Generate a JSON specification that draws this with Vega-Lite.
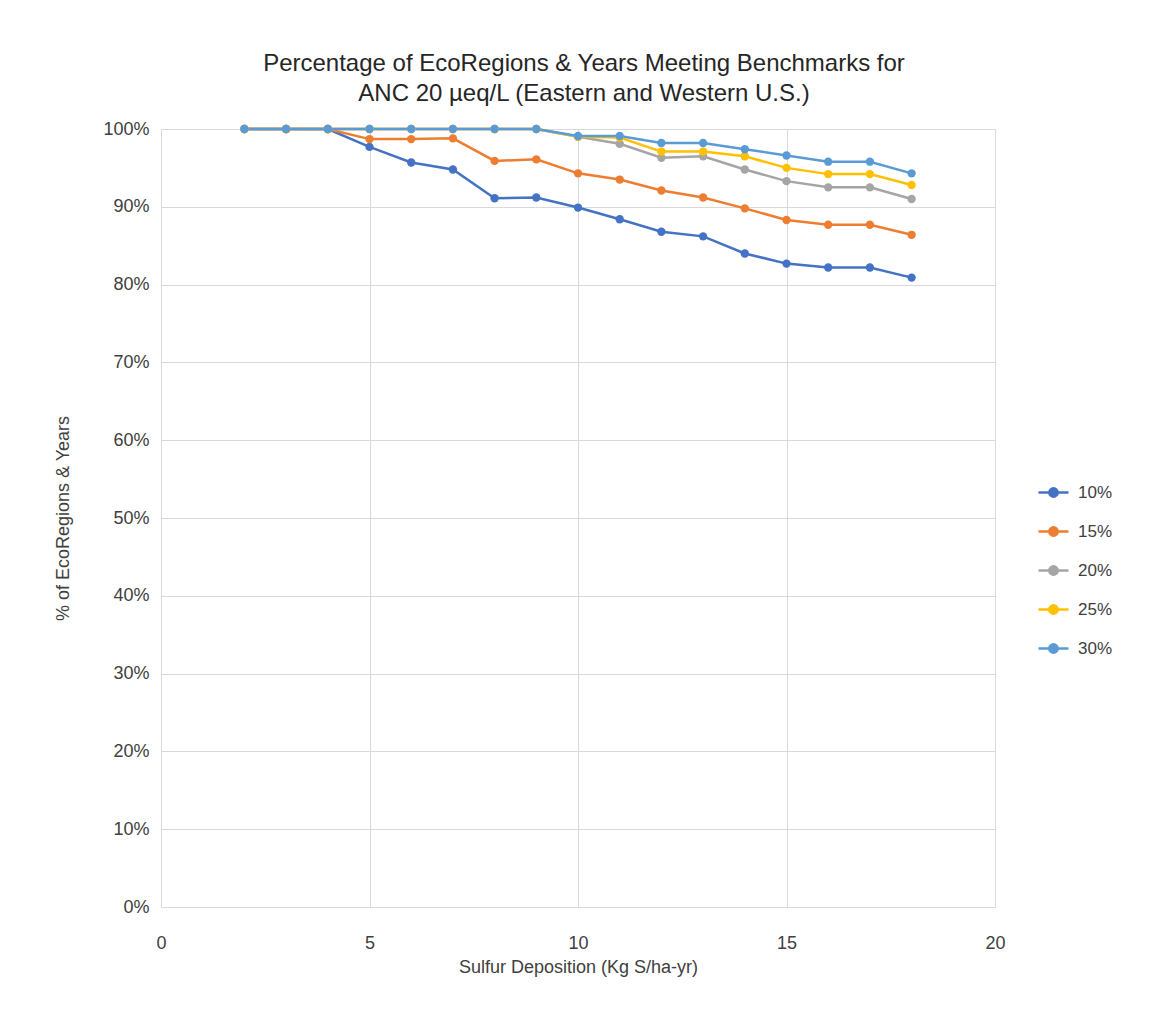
{
  "$schema": "https://vega.github.io/schema/vega-lite/v6.json",
  "autosize": "none",
  "width": 834,
  "height": 778,
  "padding": {"left": 161, "top": 129, "right": 159, "bottom": 119},
  "background": "white",
  "title": {
    "text": ["Percentage  of EcoRegions  & Years Meeting Benchmarks for", "ANC 20 µeq/L  (Eastern  and  Western  U.S.)"],
    "font": "Liberation Sans",
    "fontSize": 24,
    "fontWeight": "normal",
    "color": "#262626",
    "anchor": "middle",
    "dx": 6,
    "offset": 14,
    "lineHeight": 30
  },
  "config": {
    "view": {"stroke": null},
    "font": "Liberation Sans",
    "axis": {
      "labelFont": "Liberation Sans",
      "titleFont": "Liberation Sans",
      "labelFontSize": 18,
      "titleFontSize": 18,
      "labelColor": "#404040",
      "titleColor": "#404040",
      "titleFontWeight": "normal",
      "gridColor": "#d9d9d9",
      "gridWidth": 1,
      "domain": false,
      "ticks": false,
      "labelFlush": false
    },
    "legend": {
      "labelFont": "Liberation Sans",
      "labelFontSize": 17,
      "labelColor": "#404040"
    }
  },
  "data": {
    "values": [
      {"x": 2, "s": "10%", "y": 100}, {"x": 3, "s": "10%", "y": 100}, {"x": 4, "s": "10%", "y": 100},
      {"x": 5, "s": "10%", "y": 97.7}, {"x": 6, "s": "10%", "y": 95.7}, {"x": 7, "s": "10%", "y": 94.8},
      {"x": 8, "s": "10%", "y": 91.1}, {"x": 9, "s": "10%", "y": 91.2}, {"x": 10, "s": "10%", "y": 89.9},
      {"x": 11, "s": "10%", "y": 88.4}, {"x": 12, "s": "10%", "y": 86.8}, {"x": 13, "s": "10%", "y": 86.2},
      {"x": 14, "s": "10%", "y": 84.0}, {"x": 15, "s": "10%", "y": 82.7}, {"x": 16, "s": "10%", "y": 82.2},
      {"x": 17, "s": "10%", "y": 82.2}, {"x": 18, "s": "10%", "y": 80.9},

      {"x": 2, "s": "15%", "y": 100}, {"x": 3, "s": "15%", "y": 100}, {"x": 4, "s": "15%", "y": 100},
      {"x": 5, "s": "15%", "y": 98.7}, {"x": 6, "s": "15%", "y": 98.7}, {"x": 7, "s": "15%", "y": 98.8},
      {"x": 8, "s": "15%", "y": 95.9}, {"x": 9, "s": "15%", "y": 96.1}, {"x": 10, "s": "15%", "y": 94.3},
      {"x": 11, "s": "15%", "y": 93.5}, {"x": 12, "s": "15%", "y": 92.1}, {"x": 13, "s": "15%", "y": 91.2},
      {"x": 14, "s": "15%", "y": 89.8}, {"x": 15, "s": "15%", "y": 88.3}, {"x": 16, "s": "15%", "y": 87.7},
      {"x": 17, "s": "15%", "y": 87.7}, {"x": 18, "s": "15%", "y": 86.4},

      {"x": 2, "s": "20%", "y": 100}, {"x": 3, "s": "20%", "y": 100}, {"x": 4, "s": "20%", "y": 100},
      {"x": 5, "s": "20%", "y": 100}, {"x": 6, "s": "20%", "y": 100}, {"x": 7, "s": "20%", "y": 100},
      {"x": 8, "s": "20%", "y": 100}, {"x": 9, "s": "20%", "y": 100}, {"x": 10, "s": "20%", "y": 99.0},
      {"x": 11, "s": "20%", "y": 98.1}, {"x": 12, "s": "20%", "y": 96.3}, {"x": 13, "s": "20%", "y": 96.5},
      {"x": 14, "s": "20%", "y": 94.8}, {"x": 15, "s": "20%", "y": 93.3}, {"x": 16, "s": "20%", "y": 92.5},
      {"x": 17, "s": "20%", "y": 92.5}, {"x": 18, "s": "20%", "y": 91.0},

      {"x": 2, "s": "25%", "y": 100}, {"x": 3, "s": "25%", "y": 100}, {"x": 4, "s": "25%", "y": 100},
      {"x": 5, "s": "25%", "y": 100}, {"x": 6, "s": "25%", "y": 100}, {"x": 7, "s": "25%", "y": 100},
      {"x": 8, "s": "25%", "y": 100}, {"x": 9, "s": "25%", "y": 100}, {"x": 10, "s": "25%", "y": 99.0},
      {"x": 11, "s": "25%", "y": 98.9}, {"x": 12, "s": "25%", "y": 97.1}, {"x": 13, "s": "25%", "y": 97.1},
      {"x": 14, "s": "25%", "y": 96.5}, {"x": 15, "s": "25%", "y": 95.0}, {"x": 16, "s": "25%", "y": 94.2},
      {"x": 17, "s": "25%", "y": 94.2}, {"x": 18, "s": "25%", "y": 92.8},

      {"x": 2, "s": "30%", "y": 100}, {"x": 3, "s": "30%", "y": 100}, {"x": 4, "s": "30%", "y": 100},
      {"x": 5, "s": "30%", "y": 100}, {"x": 6, "s": "30%", "y": 100}, {"x": 7, "s": "30%", "y": 100},
      {"x": 8, "s": "30%", "y": 100}, {"x": 9, "s": "30%", "y": 100}, {"x": 10, "s": "30%", "y": 99.1},
      {"x": 11, "s": "30%", "y": 99.1}, {"x": 12, "s": "30%", "y": 98.2}, {"x": 13, "s": "30%", "y": 98.2},
      {"x": 14, "s": "30%", "y": 97.4}, {"x": 15, "s": "30%", "y": 96.6}, {"x": 16, "s": "30%", "y": 95.8},
      {"x": 17, "s": "30%", "y": 95.8}, {"x": 18, "s": "30%", "y": 94.3}
    ]
  },
  "encoding": {
    "x": {
      "field": "x", "type": "quantitative",
      "scale": {"domain": [0, 20], "nice": false},
      "axis": {"values": [0, 5, 10, 15, 20], "title": "Sulfur Deposition (Kg S/ha-yr)", "labelPadding": 27, "titlePadding": 6}
    },
    "y": {
      "field": "y", "type": "quantitative",
      "scale": {"domain": [0, 100], "nice": false},
      "axis": {"values": [0, 10, 20, 30, 40, 50, 60, 70, 80, 90, 100], "labelExpr": "datum.value + '%'", "title": "% of EcoRegions & Years", "labelPadding": 12, "titlePadding": 30}
    },
    "color": {
      "field": "s", "type": "nominal",
      "scale": {"domain": ["10%", "15%", "20%", "25%", "30%"], "range": ["#4472C4", "#ED7D31", "#A5A5A5", "#FFC000", "#5B9BD5"]},
      "legend": {
        "title": null,
        "orient": "none",
        "legendX": 876,
        "legendY": 347,
        "rowPadding": 13,
        "symbolType": "M-1,0H1M0.28,0A0.28,0.28 0 1,1 -0.28,0A0.28,0.28 0 1,1 0.28,0Z",
        "symbolSize": 900,
        "symbolStrokeWidth": 2.5,
        "labelOffset": 8,
        "encode": {"symbols": {"update": {"fill": {"scale": "color", "field": "value"}}}}
      }
    }
  },
  "layer": [
    {"mark": {"type": "line", "strokeWidth": 2.5, "point": {"filled": true, "size": 70}}}
  ]
}
